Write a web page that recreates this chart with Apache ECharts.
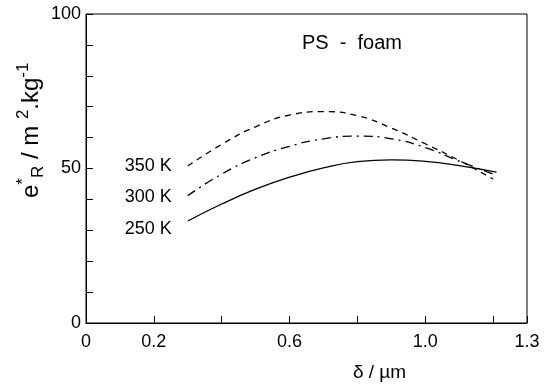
<!DOCTYPE html>
<html><head><meta charset="utf-8">
<script src="https://cdn.jsdelivr.net/npm/echarts@6/dist/echarts.min.js"></script>
<style>html,body{margin:0;padding:0;background:#fff}#c{width:548px;height:387px}</style>
</head><body><div id="c"></div>
<script>
const xTickLabels = ['0', '0.2', '0.6', '1.0', '1.3'];
const yTickLabels = ['0', '50', '100'];
const seriesNames = ['350 K', '300 K', '250 K'];
const x350 = [0.30, 0.40, 0.50, 0.60, 0.70, 0.80, 0.90, 1.00, 1.10, 1.20];
const y350 = [50.8, 57.8, 63.5, 67.3, 68.4, 67.1, 63.1, 58.0, 52.6, 46.6];
const x300 = [0.30, 0.40, 0.50, 0.60, 0.70, 0.80, 0.90, 1.00, 1.10, 1.21];
const y300 = [41.2, 48.2, 53.5, 57.2, 59.6, 60.5, 59.6, 56.8, 52.4, 47.8];
const x250 = [0.30, 0.40, 0.50, 0.60, 0.70, 0.80, 0.90, 1.00, 1.10, 1.21];
const y250 = [33.0, 38.5, 43.3, 47.2, 50.2, 52.2, 52.8, 52.3, 50.9, 48.8];

const FONT = 'Liberation Sans';
function mk(xs, ys, name, dy) {
  return xs.map((x, i) => {
    const p = {value: [x, ys[i]]};
    if (i === 0) p.label = {show: true, position: 'left', distance: 16, offset: [0, dy], formatter: name,
      color: '#000', fontSize: 18, fontFamily: FONT};
    return p;
  });
}
const chart = echarts.init(document.getElementById('c'));
chart.setOption({
  animation: false,
  backgroundColor: '#fff',
  grid: {left: 86, right: 21, top: 14, bottom: 62, show: true, borderColor: '#000', borderWidth: 1, backgroundColor: 'transparent'},
  xAxis: {
    type: 'value', min: 0, max: 1.3, interval: 0.2,
    axisLine: {lineStyle: {color: '#000', width: 1}},
    axisTick: {inside: true, length: 7, lineStyle: {color: '#000'}},
    splitLine: {show: false},
    axisLabel: {color: '#000', fontSize: 18, fontFamily: FONT, margin: 10, showMaxLabel: true,
      formatter: v => { const s = (Math.abs(v) < 1e-9) ? '0' : v.toFixed(1); return xTickLabels.includes(s) ? s : ''; }},
    name: 'δ / µm', nameLocation: 'middle', nameGap: 40,
    nameTextStyle: {color: '#000', fontSize: 19, fontFamily: FONT, padding: [0, 0, 0, 146]}
  },
  yAxis: {
    type: 'value', min: 0, max: 100, interval: 10,
    axisLine: {lineStyle: {color: '#000', width: 1}},
    axisTick: {inside: true, length: 7, lineStyle: {color: '#000'}},
    splitLine: {show: false},
    axisLabel: {color: '#000', fontSize: 18, fontFamily: FONT, margin: 5,
      formatter: v => yTickLabels.includes(String(v)) ? String(v) : ''}
  },
  graphic: [
    {type: 'text', left: 302, top: 33, style: {text: 'PS  -  foam', fill: '#000', fontSize: 20, fontFamily: FONT}},
    {type: 'text', x: 15, y: 198, rotation: Math.PI / 2,
      style: {
        text: '{b|e}{sup|*}{sub|R}{b| / m }{sup|2}{b|.kg}{sup|-1}',
        fill: '#000', fontFamily: FONT,
        rich: {
          b: {fontSize: 24, fontFamily: FONT, lineHeight: 32, verticalAlign: 'middle', fill: '#000'},
          sup: {fontSize: 17, fontFamily: FONT, lineHeight: 32, verticalAlign: 'top', fill: '#000'},
          sub: {fontSize: 17, fontFamily: FONT, lineHeight: 32, verticalAlign: 'bottom', fill: '#000'}
        }
      }}
  ],
  series: [
    {name: seriesNames[0], type: 'line', smooth: true, symbol: 'circle', symbolSize: 0, showSymbol: true, data: mk(x350, y350, seriesNames[0], 0),
      lineStyle: {color: '#000', width: 1.3, type: [6, 5]}, itemStyle: {color: '#000'}},
    {name: seriesNames[1], type: 'line', smooth: true, symbol: 'circle', symbolSize: 0, showSymbol: true, data: mk(x300, y300, seriesNames[1], 1),
      lineStyle: {color: '#000', width: 1.3, type: [9, 5, 2, 5]}, itemStyle: {color: '#000'}},
    {name: seriesNames[2], type: 'line', smooth: true, symbol: 'circle', symbolSize: 0, showSymbol: true, data: mk(x250, y250, seriesNames[2], 8),
      lineStyle: {color: '#000', width: 1.3}, itemStyle: {color: '#000'}}
  ]
});
</script></body></html>
